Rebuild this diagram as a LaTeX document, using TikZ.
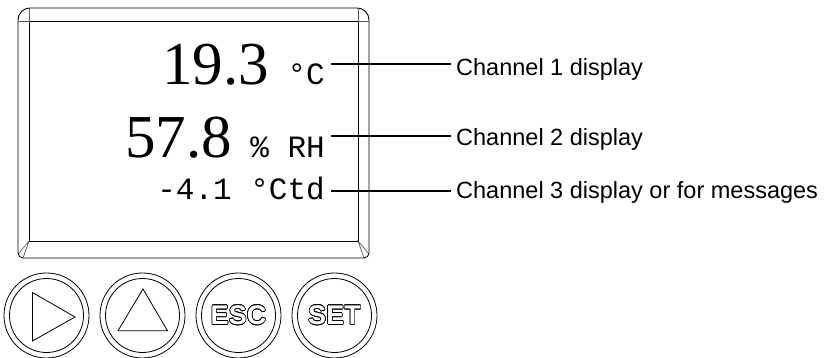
\documentclass[tikz,border=0pt]{standalone}
\usepackage{fontspec}
\usepackage{contour}
\usetikzlibrary{positioning}
\setmainfont{Liberation Sans}
\newfontfamily\lcdserif{Liberation Serif}
\newfontfamily\lcdmono{Liberation Mono}
\definecolor{bezelgray}{HTML}{5A5A5A}
\contourlength{0.6pt}
\newcommand{\bignum}{\lcdserif\fontsize{61}{61}\selectfont}
\newcommand{\unitfont}{\lcdmono\fontsize{31}{31}\selectfont}

\begin{document}
\begin{tikzpicture}[
  x=1pt,y=-1pt,
  frame/.style={line width=0.9pt},
  bevel/.style={bezelgray,line width=0.7pt},
  leader/.style={line width=1.3pt},
  readout/.style={anchor=base east,inner sep=0pt},
  callout/.style={anchor=base west,inner xsep=5pt,inner ysep=0pt,font=\fontsize{23.5}{28}\selectfont},
  keyring/.style={circle,draw,line width=0.8pt,minimum size=85pt,inner sep=0pt},
  keyface/.style={circle,draw,line width=0.8pt,minimum size=74pt,inner sep=0pt,
    font=\bfseries\fontsize{27}{27}\selectfont},
  keymark/.style={line width=0.8pt,line join=miter}
]
  \useasboundingbox (0,0) rectangle (830,358);

  % housing and display window
  \draw[frame,rounded corners=12pt] (18,130) -- (18,8) -- (369,8) -- (369,130);
  \draw[frame,rounded corners=5pt] (18,130) -- (18,258) -- (369,258) -- (369,130);
  \draw[frame] (29,21) rectangle (358,241);
  \draw[bevel] (29,8) -- (29,21) -- (18,21);
  \draw[bevel] (358,8) -- (358,21) -- (369,21);
  \draw[bevel] (19,253) -- (29,241) -- (23,258);
  \draw[bevel] (368,253) -- (358,241) -- (364,258);

  % readouts
  \node[readout] (ch1) at (325,85) {{\bignum 19.3}{\unitfont\ °C}};
  \node[readout] (ch2) at (325,158) {{\bignum 57.8}{\unitfont\ \% RH}};
  \node[readout] (ch3) at (325,199.5) {{\unitfont -4.1 °Ctd}};

  % callouts
  \node[callout] (lab1) at (451,75.5) {Channel 1 display};
  \node[callout] (lab2) at (451,146) {Channel 2 display};
  \node[callout] (lab3) at (451,199) {Channel 3 display or for messages};
  \coordinate (tap1) at (331,64);
  \coordinate (tap2) at (331,136);
  \coordinate (tap3) at (331,191);
  \draw[leader] (tap1) -- (tap1 -| lab1.west);
  \draw[leader] (tap2) -- (tap2 -| lab2.west);
  \draw[leader] (tap3) -- (tap3 -| lab3.west);

  % keys
  \foreach \k/\x/\txt in {play/46.5/, up/142.5/, esc/238.5/ESC, set/334.5/SET} {
    \node[keyring] (\k-ring) at (\x,315.5) {};
    \node[keyface] (\k) at (\x,315.5) {\contour{black}{\textcolor{white}{\txt}}};
  }
  \draw[keymark] ([shift={(-14,-23)}]play.center) -- ([shift={(-14,25.5)}]play.center)
    -- ([shift={(28.5,1.5)}]play.center) -- cycle;
  \draw[keymark] ([shift={(0.5,-26.5)}]up.center) -- ([shift={(-24.5,15.2)}]up.center)
    -- ([shift={(25,15.2)}]up.center) -- cycle;
\end{tikzpicture}
\end{document}
